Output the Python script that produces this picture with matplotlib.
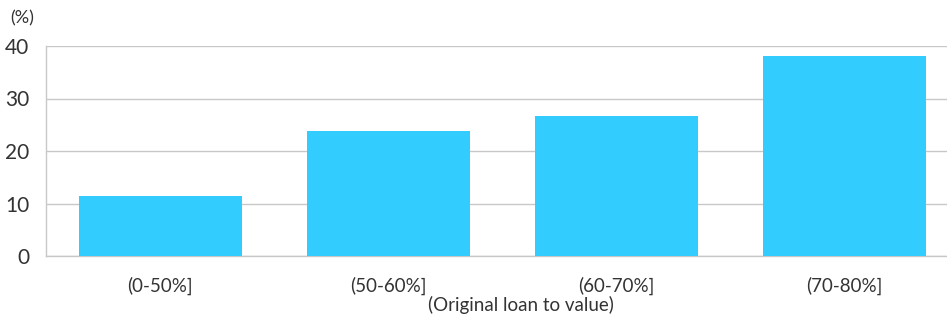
import matplotlib.pyplot as plt

categories = ["(0-50%]", "(50-60%]", "(60-70%]", "(70-80%]"]
values = [11.5, 23.8, 26.7, 38.1]
yticks = [0, 10, 20, 30, 40]

plt.rcParams["font.family"] = ["Lato", "DejaVu Sans"]

fig = plt.figure(figsize=(9.47, 3.18), dpi=100)
ax = fig.add_axes([46 / 947, 1 - 256 / 318, (947 - 46) / 947, 210 / 318])

ax.bar(range(len(categories)), values, width=0.715, color="#33CCFF", zorder=3)
ax.set_xlim(-0.5, 3.45)
ax.set_ylim(0, 40)
ax.set_yticks(yticks)
ax.set_xticks(range(len(categories)))
ax.set_xticklabels(categories)
ax.grid(axis="y", color="#c8c8c8", linewidth=1.0, zorder=0)
ax.tick_params(axis="both", length=0, colors="#333333")
ax.tick_params(axis="x", pad=15, labelsize=13.5)
ax.tick_params(axis="y", pad=12, labelsize=15)
for s in ["top", "right"]:
    ax.spines[s].set_visible(False)
for s in ["left", "bottom"]:
    ax.spines[s].set_color("#c8c8c8")
    ax.spines[s].set_linewidth(1.0)

ax.set_xlabel("(Original loan to value)", fontsize=13.5, color="#333333", va="center")
ax.xaxis.set_label_coords(0.527, -0.233)
fig.text(10 / 947, 1 - 18 / 318, "(%)", fontsize=13, color="#333333", va="center")

fig.savefig("out.png", dpi=100)
